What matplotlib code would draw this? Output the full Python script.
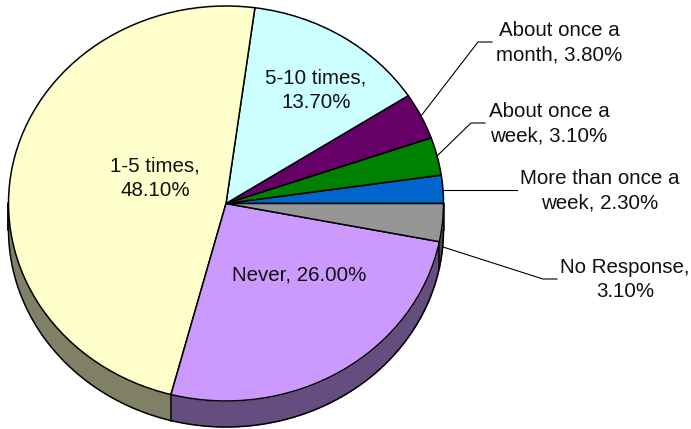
import numpy as np
import matplotlib
matplotlib.use('Agg')
import matplotlib.pyplot as plt

# counter-clockwise from 3 o'clock
labels = ['More than once a\nweek, 2.30%', 'About once a\nweek, 3.10%', 'About once a\nmonth, 3.80%',
          '5-10 times,\n13.70%', '1-5 times,\n48.10%', 'Never, 26.00%', 'No Response,\n3.10%']
values = [2.3, 3.1, 3.8, 13.7, 48.1, 26.0, 3.1]
colors = ['#0066CC', '#008000', '#660066', '#CCFFFF', '#FFFFCC', '#CC99FF', '#969696']
side_colors = ['#003366', '#004000', '#330033', '#668080', '#808066', '#664D80', '#4B4B4B']

W, H = 691, 429
CX, CY, RX, RY = 226, 203.5, 217.5, 197.5
DEPTH = 26 / RY


def px(x, y):
    # picture pixels to data units
    return (x - CX) / RX, (CY - y) / RY


plt.rcParams['font.family'] = ['Liberation Sans', 'DejaVu Sans']
fig = plt.figure(figsize=(W / 100, H / 100), dpi=100)
ax = fig.add_axes([0, 0, 1, 1])

# side wall first, only the front half shows
edges = np.cumsum([0] + values) / sum(values) * 360
for i in range(len(values)):
    a = max(edges[i], 180)
    b = edges[i + 1]
    if b <= a:
        continue
    t = np.radians(np.linspace(a, b, 100))
    ax.fill_between(np.cos(t), np.sin(t) - DEPTH, np.sin(t), color=side_colors[i], lw=0, zorder=1)
    ax.plot(np.cos(t), np.sin(t) - DEPTH, color='black', lw=1.1, zorder=2)
    ax.plot([np.cos(t[0])] * 2, [np.sin(t[0]), np.sin(t[0]) - DEPTH], color='black', lw=1.1, zorder=2)

ax.plot([-1, -1], [0, -DEPTH], color='black', lw=1.1, zorder=2)
ax.plot([1, 1], [0, -DEPTH], color='black', lw=1.1, zorder=2)

ax.pie(values, colors=colors, startangle=0, counterclock=True, radius=1,
       wedgeprops={'edgecolor': 'black', 'linewidth': 1.1, 'zorder': 3})

ax.set_xlim((0 - CX) / RX, (W - CX) / RX)
ax.set_ylim((CY - H) / RY, CY / RY)
ax.set_aspect('auto')
ax.axis('off')

# label centres in pixels
label_pos = [(600, 191), (549, 124), (559, 43), (316, 90), (155, 178), (299.5, 275), (625, 279.5)]
for lab, pos in zip(labels, label_pos):
    x, y = px(*pos)
    ax.text(x, y, lab, ha='center', va='center', fontsize=14.8, color='#111111', linespacing=1.38, zorder=5)

# leader lines
leaders = [
    [(443, 190), (517, 190)],
    [(437, 156), (471, 123), (485, 123)],
    [(421, 116), (478, 42), (492, 42)],
    [(443, 247), (543, 279), (557, 279)],
]
for pts in leaders:
    xy = np.array([px(*p) for p in pts])
    ax.plot(xy[:, 0], xy[:, 1], color='black', lw=0.8, zorder=4)

fig.savefig('out.png', dpi=100)
